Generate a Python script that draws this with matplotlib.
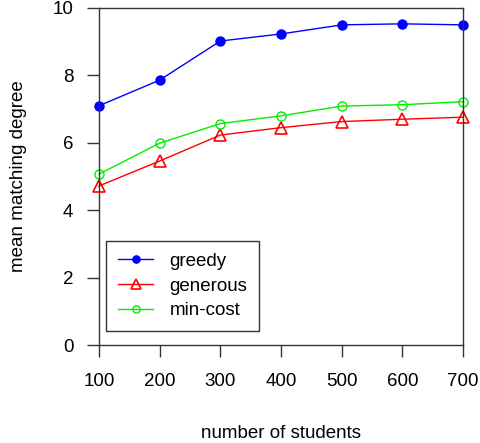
import matplotlib
matplotlib.use("Agg")
import matplotlib.pyplot as plt

# data
students = [100, 200, 300, 400, 500, 600, 700]
greedy = [7.10, 7.86, 9.02, 9.23, 9.50, 9.53, 9.50]
generous = [4.72, 5.46, 6.23, 6.45, 6.63, 6.70, 6.76]
min_cost = [5.07, 5.99, 6.57, 6.80, 7.09, 7.13, 7.22]

plt.rcParams["font.family"] = ["Liberation Sans", "DejaVu Sans"]
plt.rcParams["font.size"] = 13.5

fig = plt.figure(figsize=(4.81, 4.43), dpi=100)
ax = fig.add_axes([99 / 481, 1 - 345 / 443, 364 / 481, 337 / 443])

ax.plot(students, greedy, color="blue", marker="o", markersize=6.5, lw=1, label="greedy", clip_on=False)
ax.plot(students, generous, color="red", marker="^", markersize=9, mfc="none", mew=1.2, lw=1,
        label="generous", clip_on=False)
ax.plot(students, min_cost, color="#00ee00", marker="o", markersize=6.5, mfc="none", mew=1, lw=1,
        label="min-cost", clip_on=False)

ax.set_xlim(100, 700)
ax.set_ylim(0, 10)
ax.set_xticks(students)
ax.set_yticks([0, 2, 4, 6, 8, 10])
ax.tick_params(direction="out", length=8.5, width=1, color="#333333")
ax.tick_params(axis="x", pad=12)
ax.tick_params(axis="y", pad=10)
for s in ax.spines.values():
    s.set_color("#333333")
    s.set_linewidth(1)

ax.set_xlabel("number of students", labelpad=25)
ax.set_ylabel("mean matching degree", labelpad=18)

leg = ax.legend(loc="center left", bbox_to_anchor=(0.018, 0.175), fancybox=False, framealpha=1,
                edgecolor="#333333", handlelength=1.9, handletextpad=0.85, borderpad=0.65,
                labelspacing=0.4, markerscale=0.8, borderaxespad=0, fontsize=13.5)
leg.get_frame().set_linewidth(1)

fig.savefig("out.png", dpi=100)
